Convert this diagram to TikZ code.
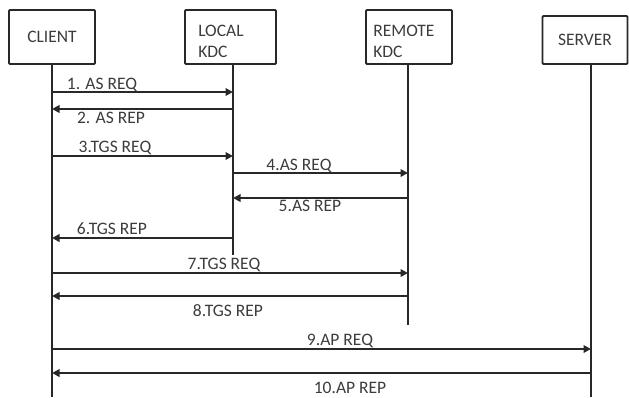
\documentclass[tikz,border=0pt]{standalone}
\usepackage{fontspec}
\setmainfont{Carlito}
\usetikzlibrary{arrows.meta, positioning, calc}
\definecolor{ink}{RGB}{40,40,40}
\definecolor{txt}{RGB}{60,60,60}
\newcommand{\seqfont}{\fontsize{17.5}{21}\selectfont}

\begin{document}
\begin{tikzpicture}[x=1pt, y=-1pt,
  actor/.style={draw=ink, line width=1.9pt, rounded corners=1pt, minimum height=54pt, inner sep=0pt, text=txt, font=\seqfont},
  boxtext/.style={align=left, inner sep=0pt, text=txt, font=\seqfont},
  life/.style={draw=ink, line width=1.9pt},
  msg/.style={draw=ink, line width=1.9pt, -{Triangle[length=7.5pt, width=7.5pt]}},
  lbl/.style={inner sep=0pt, text=txt, font=\seqfont}]
  \useasboundingbox (0,0) rectangle (629,397);
  % participants
  \node[actor, minimum width=86pt] (client) at (52,37) {CLIENT};
  \node[actor, minimum width=91pt] (local) at (230.5,37) {};
  \node[boxtext, anchor=north west] (localtxt) at ([shift={(14,16)}]local.north west) {LOCAL\\KDC};
  \node[actor, minimum width=86pt] (remote) at (409,37) {};
  \node[boxtext, anchor=north west] (remotetxt) at ([shift={(8,16)}]remote.north west) {REMOTE\\KDC};
  \node[actor, minimum width=85pt, minimum height=48pt] (server) at (585,40) {SERVER};
  % lifelines
  \coordinate (cl) at (client.south);
  \coordinate (lk) at ([xshift=2.5pt]local.south);
  \coordinate (rk) at ([xshift=-1pt]remote.south);
  \coordinate (sv) at ([xshift=6pt]server.south);
  \draw[life] (cl) -- (cl |- 0,397);
  \draw[life] (lk) -- (lk |- 0,255);
  \draw[life] (rk) -- (rk |- 0,325);
  \draw[life] (sv) -- (sv |- 0,397);
  % messages
  \foreach \a/\b/\y/\lx/\ly/\txt [count=\i] in {
    cl/lk/92/102/85/{1. AS REQ},
    lk/cl/109/111/118/{2. AS REP},
    cl/lk/156/115/148/{3.TGS REQ},
    lk/rk/173/299/166/{4.AS REQ},
    rk/lk/198/310/206/{5.AS REP},
    lk/cl/238/112/229/{6.TGS REP},
    cl/rk/273/224/265/{7.TGS REQ},
    rk/cl/296/228/311/{8.TGS REP},
    cl/sv/349/340/341/{9.AP REQ},
    sv/cl/373/350/388/{10.AP REP}} {
    \draw[msg] (\a |- 0,\y) -- (\b |- 0,\y);
    \node[lbl] (lbl\i) at (\lx,\ly) {\txt};
  }
\end{tikzpicture}
\end{document}
